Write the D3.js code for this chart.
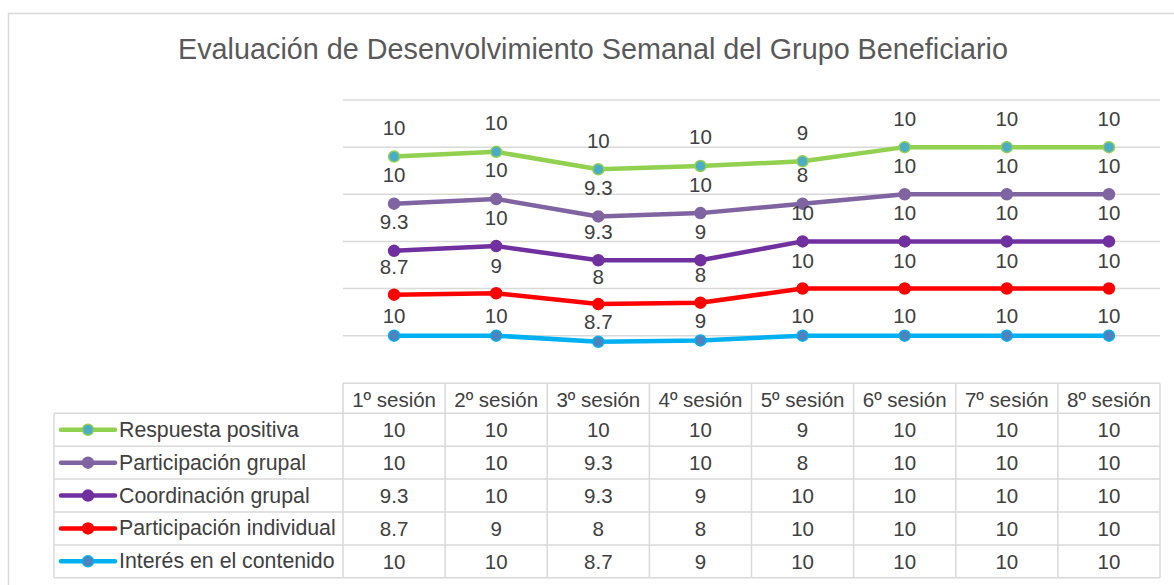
<!DOCTYPE html>
<html>
<head>
<meta charset="utf-8">
<script src="https://cdn.jsdelivr.net/npm/d3@7"></script>
<style>
  body { margin: 0; background: #fff; }
  svg { display: block; font-family: "Liberation Sans", Arial, sans-serif; }
</style>
</head>
<body>
<svg id="chart" width="1174" height="585"></svg>
<script>
// data
const title = "Evaluación de Desenvolvimiento Semanal del Grupo Beneficiario";
const sessions = ["1º sesión", "2º sesión", "3º sesión", "4º sesión", "5º sesión", "6º sesión", "7º sesión", "8º sesión"];
// series, in table order (top row first)
const seriesNames = ["Respuesta positiva", "Participación grupal", "Coordinación grupal", "Participación individual", "Interés en el contenido"];
const respuestaPositiva = [10, 10, 10, 10, 9, 10, 10, 10];
const participacionGrupal = [10, 10, 9.3, 10, 8, 10, 10, 10];
const coordinacionGrupal = [9.3, 10, 9.3, 9, 10, 10, 10, 10];
const participacionIndividual = [8.7, 9, 8, 8, 10, 10, 10, 10];
const interesContenido = [10, 10, 8.7, 9, 10, 10, 10, 10];
const seriesValues = [respuestaPositiva, participacionGrupal, coordinacionGrupal, participacionIndividual, interesContenido];
const yTicks = [0, 10, 20, 30, 40, 50, 60];

// styles per series (same order as seriesNames)
const lineColors = ["#92D050", "#8064A2", "#7030A0", "#FF0000", "#00B0F0"];
const markerFills = ["#4BACC6", "#8064A2", "#7030A0", "#FF0000", "#4F81BD"];
const labelOffsets = [-29, -29, -29, -28, -20];

const svg = d3.select("#chart");
const textColor = "#404040";
const gridColor = "#d9d9d9";

// outer frame
svg.append("rect")
  .attr("x", 8.5).attr("y", 13.5)
  .attr("width", 1200).attr("height", 600)
  .attr("fill", "#fff").attr("stroke", gridColor).attr("stroke-width", 1.5);

// title
const titleText = svg.append("text")
  .attr("x", 593).attr("y", 49)
  .attr("text-anchor", "middle").attr("dominant-baseline", "central")
  .attr("fill", "#595959")
  .style("font-size", "28px")
  .text(title);
const tw = titleText.node().getComputedTextLength();
titleText.style("font-size", (28 * 830 / tw).toFixed(2) + "px");

// scales
const x = d3.scaleBand().domain(sessions).range([343, 1160]).padding(0);
const y = d3.scaleLinear().domain([0, 60]).range([382.8, 100]);
const cx = d => x(d) + x.bandwidth() / 2;

// gridlines
svg.append("g").selectAll("line")
  .data(yTicks.filter(t => t > 0))
  .join("line")
  .attr("x1", 343).attr("x2", 1160)
  .attr("y1", d => y(d)).attr("y2", d => y(d))
  .attr("stroke", gridColor).attr("stroke-width", 1.5);

// stacked data (bottom series first)
const rows = sessions.map((s, i) => {
  const r = { session: s };
  seriesNames.forEach((n, k) => { r[n] = seriesValues[k][i]; });
  return r;
});
const stackKeys = seriesNames.slice().reverse();
const stacked = d3.stack().keys(stackKeys)(rows);

const line = d3.line()
  .x(d => cx(d.data.session))
  .y(d => y(d[1]));

const layers = svg.append("g");
stacked.forEach(layer => {
  const k = seriesNames.indexOf(layer.key);
  const g = layers.append("g");
  g.append("path")
    .datum(layer)
    .attr("d", line)
    .attr("fill", "none")
    .attr("stroke", lineColors[k])
    .attr("stroke-width", 4.5)
    .attr("stroke-linejoin", "round");
  g.selectAll("circle")
    .data(layer)
    .join("circle")
    .attr("cx", d => cx(d.data.session))
    .attr("cy", d => y(d[1]))
    .attr("r", 5.5)
    .attr("fill", markerFills[k])
    .attr("stroke", lineColors[k])
    .attr("stroke-width", 1.5);
});

// data labels on top
const labels = svg.append("g");
stacked.forEach(layer => {
  const k = seriesNames.indexOf(layer.key);
  labels.selectAll(null)
    .data(layer)
    .join("text")
    .attr("x", d => cx(d.data.session))
    .attr("y", d => y(d[1]) + labelOffsets[k])
    .attr("text-anchor", "middle")
    .attr("dominant-baseline", "central")
    .attr("fill", textColor)
    .style("font-size", "20.5px")
    .text(d => d.data[layer.key]);
});

// data table
const tableLeft = 54, tableRight = 1160, keyColRight = 343;
const headTop = 383.3, headBottom = 413.3, rowH = 32.9;
const rowY = i => headBottom + i * rowH;
const tableBottom = rowY(seriesNames.length);
const tbl = svg.append("g").attr("stroke", gridColor).attr("stroke-width", 1.5);

// header row box
tbl.append("line").attr("x1", keyColRight).attr("x2", tableRight).attr("y1", headTop).attr("y2", headTop);
// horizontal lines
tbl.selectAll(null)
  .data(d3.range(seriesNames.length + 1))
  .join("line")
  .attr("x1", tableLeft).attr("x2", tableRight)
  .attr("y1", d => rowY(d)).attr("y2", d => rowY(d));
// vertical lines
tbl.append("line").attr("x1", tableLeft).attr("x2", tableLeft).attr("y1", headBottom).attr("y2", tableBottom);
const colEdges = sessions.map(s => x(s)).concat([tableRight]);
tbl.selectAll(null)
  .data(colEdges)
  .join("line")
  .attr("x1", d => d).attr("x2", d => d)
  .attr("y1", headTop).attr("y2", tableBottom);

// header text
svg.append("g").selectAll("text")
  .data(sessions)
  .join("text")
  .attr("x", d => cx(d))
  .attr("y", (headTop + headBottom) / 2 + 1)
  .attr("text-anchor", "middle").attr("dominant-baseline", "central")
  .attr("fill", textColor)
  .style("font-size", "20.5px")
  .text(d => d);

// rows: legend key + values
seriesNames.forEach((name, k) => {
  const mid = rowY(k) + rowH / 2;
  const g = svg.append("g");
  g.append("line")
    .attr("x1", 61).attr("x2", 115)
    .attr("y1", mid).attr("y2", mid)
    .attr("stroke", lineColors[k]).attr("stroke-width", 4.5)
    .attr("stroke-linecap", "round");
  g.append("circle")
    .attr("cx", 88).attr("cy", mid).attr("r", 5.5)
    .attr("fill", markerFills[k])
    .attr("stroke", lineColors[k]).attr("stroke-width", 1.5);
  g.append("text")
    .attr("x", 119).attr("y", mid)
    .attr("dominant-baseline", "central")
    .attr("fill", textColor)
    .style("font-size", "21.3px")
    .text(name);
  g.selectAll("text.v")
    .data(seriesValues[k])
    .join("text")
    .attr("class", "v")
    .attr("x", (d, i) => cx(sessions[i]))
    .attr("y", mid)
    .attr("text-anchor", "middle").attr("dominant-baseline", "central")
    .attr("fill", textColor)
    .style("font-size", "20.5px")
    .text(d => d);
});
</script>
</body>
</html>
